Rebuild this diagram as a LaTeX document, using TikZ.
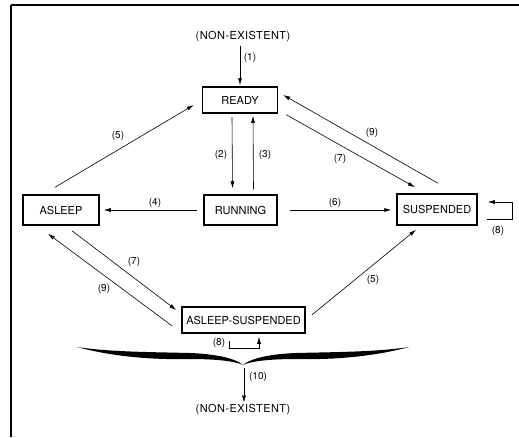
\documentclass[tikz,border=0pt]{standalone}
\usepackage{fontspec}
\setmainfont{TeX Gyre Heros}
\usetikzlibrary{arrows.meta}
\begin{document}
\begin{tikzpicture}[x=1pt,y=-1pt,
  statebox/.style={draw,line width=1.5pt,rectangle,inner sep=0pt,font=\fontsize{11}{13}\selectfont},
  plain/.style={inner sep=0pt,font=\fontsize{11}{13}\selectfont\addfontfeature{LetterSpace=4}},
  lbl/.style={inner sep=0pt,font=\fontsize{10}{12}\selectfont},
  conn/.style={line width=0.6pt,-{Latex[length=7pt,width=4pt]}},
  frame/.style={line width=2pt}]
\useasboundingbox (0,0) rectangle (519,437);
\draw[frame] (11,5) coordinate (fa) -- (519,5) coordinate (fb);
\draw[frame] (fa) -- (11,437) coordinate (fc);

\node[plain] (ne1) at (243,37) {(NON-EXISTENT)};
\node[statebox,minimum width=75pt,minimum height=26pt] (ready) at (240,100) {READY};
\node[statebox,minimum width=73pt,minimum height=30pt] (running) at (240.5,210) {RUNNING};
\node[statebox,minimum width=76pt,minimum height=30pt] (asleep) at (61,210) {ASLEEP};
\node[statebox,minimum width=80pt,minimum height=31pt] (susp) at (437,209.5) {SUSPENDED};
\node[statebox,minimum width=123pt,minimum height=26pt] (as) at (243.5,320) {ASLEEP-SUSPENDED};
\node[plain] (ne2) at (243,410) {(NON-EXISTENT)};

% (1)
\draw[conn] ([shift={(-3,4)}]ne1.south) -- ([shift={(0,-1)}]ready.north);
% (2) (3)
\draw[conn] ([shift={(-8,3)}]ready.south) -- ([shift={(-8,-6)}]running.north);
\draw[conn] ([shift={(13,-5)}]running.north) -- ([shift={(13,2)}]ready.south);
% (4) (6)
\draw[conn] ([shift={(-6,0)}]running.west) -- ([shift={(4,0)}]asleep.east);
\draw[conn] ([shift={(12,0)}]running.east) -- ([shift={(-5,0.5)}]susp.west);
% upper diagonals
\draw[conn] ([shift={(-6,-7)}]asleep.north) -- ([shift={(-8,5)}]ready.west);
\draw[conn] ([shift={(1,-10)}]susp.north) -- ([shift={(5,-5)}]ready.east);
\draw[conn] ([shift={(8,1)}]ready.south east) -- ([shift={(-22,-6)}]susp.north);
% lower diagonals
\draw[conn] ([shift={(11,5)}]asleep.south) -- ([shift={(-5,-10)}]as.west);
\draw[conn] ([shift={(-9,6)}]as.west) -- ([shift={(-13,8)}]asleep.south);
\draw[conn] ([shift={(6,-5)}]as.east) -- ([shift={(-21,4)}]susp.south);
% self loops
\draw[conn] ([shift={(9,9.5)}]susp.east) -- ++(26,0) |- ([shift={(10,-7.5)}]susp.east);
\draw[conn] ([shift={(-14.5,7)}]as.south) -- ++(0,8) -| ([shift={(15.5,3)}]as.south);

% brace
\coordinate (tip) at (243,365);
\fill (77,347) .. controls (110,356) and (150,360) .. (190,359)
  .. controls (215,359) and (235,361) .. (tip)
  .. controls (235,358) and (215,354) .. (190,353)
  .. controls (150,352) and (110,352) .. (77,347) -- cycle;
\fill (409,347) .. controls (376,356) and (336,360) .. (296,359)
  .. controls (271,359) and (251,361) .. (tip)
  .. controls (251,358) and (271,354) .. (296,353)
  .. controls (336,352) and (376,352) .. (409,347) -- cycle;
\draw[conn] ([shift={(1,3)}]tip) -- ([shift={(1,-2)}]ne2.north);

% labels
\node[lbl] (l1) at (250,58) {(1)};
\node[lbl] (l2) at (221,155) {(2)};
\node[lbl] (l3) at (265,155) {(3)};
\node[lbl] (l4) at (155,203) {(4)};
\node[lbl] (l6) at (335,203) {(6)};
\node[lbl] (l5a) at (118,136) {(5)};
\node[lbl] (l9a) at (372,133) {(9)};
\node[lbl] (l7a) at (340,159) {(7)};
\node[lbl] (l7b) at (134,262) {(7)};
\node[lbl] (l9b) at (104,289) {(9)};
\node[lbl] (l5b) at (373,280) {(5)};
\node[lbl] (l8a) at (498,231) {(8)};
\node[lbl] (l8b) at (219,343) {(8)};
\node[lbl] (l10) at (258,377) {(10)};
\end{tikzpicture}
\end{document}
